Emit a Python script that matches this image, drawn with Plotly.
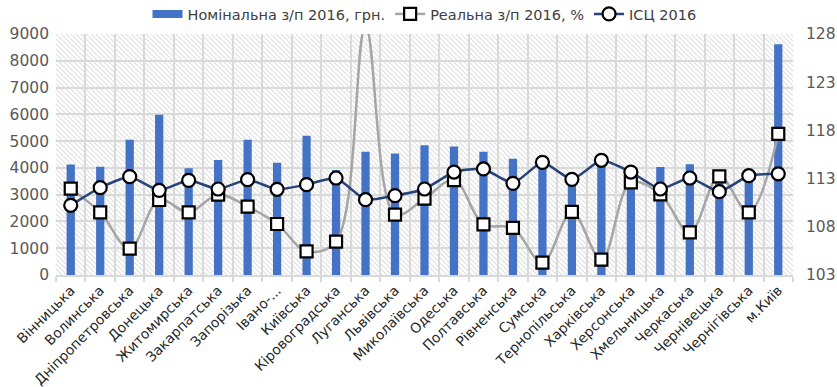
import base64
import plotly.graph_objects as go

# Regions (tick labels as shown on the axis)
regions = [
    "Вінницька", "Волинська", "Дніпропетровська", "Донецька", "Житомирська",
    "Закарпатська", "Запорізька", "Івано-...", "Київська", "Кіровоградська",
    "Луганська", "Львівська", "Миколаївська", "Одеська", "Полтавська",
    "Рівненська", "Сумська", "Тернопільська", "Харківська", "Херсонська",
    "Хмельницька", "Черкаська", "Чернівецька", "Чернігівська", "м.Київ",
]

# Nominal wage 2016, UAH
nominal_wage = [
    4130, 4040, 5050, 5980, 3990,
    4290, 5050, 4190, 5200, 3920,
    4600, 4540, 4850, 4800, 4600,
    4340, 4180, 3560, 4300, 3880,
    4030, 4140, 3740, 3960, 8620,
]

# Real wage 2016, %
real_wage = [
    111.95, 109.5, 105.73, 110.78, 109.5,
    111.33, 110.09, 108.29, 105.46, 106.46,
    128.8, 109.26, 110.92, 112.85, 108.26,
    107.88, 104.28, 109.54, 104.59, 112.6,
    111.37, 107.43, 113.24, 109.5, 117.63,
]

# Consumer price index 2016
cpi = [
    110.23, 112.06, 113.2, 111.78, 112.82,
    111.92, 112.89, 111.89, 112.37, 113.06,
    110.81, 111.23, 111.92, 113.68, 114.0,
    112.51, 114.69, 112.92, 114.9, 113.68,
    111.92, 113.06, 111.64, 113.3, 113.5,
]

# Plot-area geometry (pixels)
W, H = 837, 387
L, R, T, B = 56, 44, 34, 112
PW, PH = W - L - R, H - T - B

# Diagonal hatch fill for the plot background
hatch_svg = f"""<svg xmlns='http://www.w3.org/2000/svg' width='{PW}' height='{PH}'>
<defs><pattern id='h' patternUnits='userSpaceOnUse' width='5' height='5'>
<path d='M-1,-1 L6,6 M-1,4 L1,6 M4,-1 L6,1' stroke='#dedede' stroke-width='1.1'/>
</pattern></defs>
<rect width='100%' height='100%' fill='white'/>
<rect width='100%' height='100%' fill='url(#h)'/>
</svg>"""
hatch_uri = "data:image/svg+xml;base64," + base64.b64encode(hatch_svg.encode()).decode()

FONT = "'DejaVu Sans', sans-serif"
BAR_COLOR = "#4472C4"
BAR_NAME = "Номінальна з/п 2016, грн."

fig = go.Figure()

fig.add_trace(go.Bar(
    x=regions, y=nominal_wage,
    name=BAR_NAME, showlegend=False,
    marker=dict(color=BAR_COLOR, line=dict(width=0)),
    width=0.28,
))

# Legend-only entry giving the bar series a wide flat swatch
fig.add_trace(go.Scatter(
    x=[None], y=[None], name=BAR_NAME, mode="lines",
    line=dict(color=BAR_COLOR, width=8),
))

fig.add_trace(go.Scatter(
    x=regions, y=real_wage, yaxis="y2",
    name="Реальна з/п 2016, %",
    mode="lines+markers",
    line=dict(color="#A5A5A5", width=2.5, shape="spline", smoothing=1.0),
    marker=dict(symbol="square", size=12, color="white",
                line=dict(color="black", width=2.2)),
))

fig.add_trace(go.Scatter(
    x=regions, y=cpi, yaxis="y2",
    name="ІСЦ 2016",
    mode="lines+markers",
    line=dict(color="#264478", width=2.5, shape="spline", smoothing=0.5),
    marker=dict(symbol="circle", size=13, color="white",
                line=dict(color="black", width=2.2)),
))

fig.update_layout(
    width=W, height=H,
    margin=dict(l=L, r=R, t=T, b=B, pad=0, autoexpand=False),
    paper_bgcolor="white",
    plot_bgcolor="rgba(0,0,0,0)",
    font=dict(family=FONT, size=13, color="#404040"),
    bargap=0.72,
    showlegend=True,
    legend=dict(
        orientation="h", x=0.5, xanchor="center", y=1.0166, yanchor="bottom",
        font=dict(family=FONT, size=14.5, color="#404040"),
        bgcolor="rgba(0,0,0,0)", tracegroupgap=0,
    ),
    xaxis=dict(
        type="category",
        tickson="boundaries",
        ticks="outside", ticklen=5, tickcolor="#d9d9d9", tickwidth=1.5,
        showgrid=True, gridcolor="#d9d9d9", gridwidth=2,
        showline=True, linecolor="#d9d9d9", linewidth=2,
        tickangle=-45,
        tickfont=dict(family=FONT, size=13.8, color="#262626"),
        range=[-0.5, len(regions) - 0.5],
    ),
    yaxis=dict(
        range=[0, 9000], dtick=1000,
        showgrid=True, gridcolor="#d9d9d9", gridwidth=2,
        zeroline=False, showline=False, ticks="",
        tickfont=dict(family=FONT, size=15.5, color="#595959"),
        ticklabelstandoff=6,
    ),
    yaxis2=dict(
        overlaying="y", side="right",
        range=[103, 128], tick0=103, dtick=5,
        showgrid=False, zeroline=False, showline=False, ticks="",
        tickfont=dict(family=FONT, size=15.5, color="#595959"),
        ticklabelstandoff=12,
    ),
    images=[dict(
        source=hatch_uri, xref="paper", yref="paper",
        x=0, y=1, sizex=1, sizey=1, xanchor="left", yanchor="top",
        sizing="stretch", layer="below",
    )],
)

fig.write_html("out.html")
